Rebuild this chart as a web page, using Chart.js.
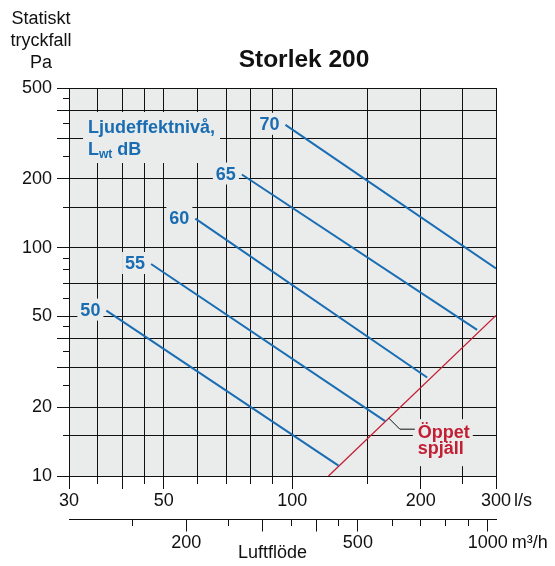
<!DOCTYPE html>
<html><head><meta charset="utf-8">
<script src="https://cdn.jsdelivr.net/npm/chart.js@4.4.1/dist/chart.umd.min.js"></script>
<style>html,body{margin:0;padding:0;background:#fff;}#wrap{width:555px;height:566px;}</style>
</head><body><div id="wrap"><canvas id="c" width="555" height="566"></canvas></div>
<script>
// ---- data ----
const levels = [50, 55, 60, 65, 70];                 // Lwt dB
const startFlow = [36.7, 46.7, 59.3, 76.2, 96.4];     // l/s
const startPressure = [53, 84.8, 134, 209, 345];      // Pa
const endFlow = [128.3, 165, 207, 271, 300];          // l/s
const endPressure = [11.1, 17.4, 27.0, 43.6, 81.1];   // Pa
const damperFlow = [121.6, 300];                      // l/s (Öppet spjäll)
const damperPressure = [10, 50.5];                    // Pa

const flowTicks = [30,35,40,45,50,60,70,80,90,100,150,200,250,300];
const flowLabels = [30,50,100,200,300];
const pressureTicks = [10,15,20,25,30,35,40,45,50,60,70,80,90,100,150,200,250,300,350,400,450,500];
const pressureGrid = [10,15,20,30,40,50,70,100,150,200,300,400,500];
const pressureLabels = [10,20,50,100,200,500];
const m3hTicks = [150,200,250,300,350,400,450,500,600,700,800,900,1000];
const m3hLabels = [200,500,1000];

// ---- style ----
const BLUE = '#1a6db3', RED = '#c41e35', BG = '#e9ecea', INK = '#111';
const FONT = "'Liberation Sans', Arial, Helvetica, sans-serif";
Chart.defaults.font.family = FONT;
Chart.defaults.color = INK;

function isLong(v){
  const m = v / Math.pow(10, Math.floor(Math.log10(v) + 1e-9));
  return [1,2,3,4,5].some(k => Math.abs(m - k) < 1e-6);
}
function setTicks(vals){ return s => { s.ticks = vals.map(v => ({value: v})); }; }

const datasets = levels.map((L, i) => ({
  label: 'Lwt ' + L + ' dB',
  data: [{x: startFlow[i], y: startPressure[i]}, {x: endFlow[i], y: endPressure[i]}],
  borderColor: BLUE, borderWidth: 2, pointRadius: 0, fill: false, tension: 0
}));
datasets.push({
  label: 'Öppet spjäll',
  data: damperFlow.map((x, i) => ({x: x, y: damperPressure[i]})),
  borderColor: RED, borderWidth: 1.3, pointRadius: 0, fill: false, tension: 0
});

const decor = {
  id: 'decor',
  beforeDraw(chart){
    const {ctx, chartArea: a} = chart;
    ctx.save(); ctx.fillStyle = BG;
    ctx.fillRect(a.left, a.top, a.right - a.left, a.bottom - a.top);
    ctx.restore();
  },
  afterDatasetsDraw(chart){
    const ctx = chart.ctx;
    ctx.save();
    // level labels
    ctx.font = 'bold 18px ' + FONT;
    ctx.textAlign = 'center'; ctx.textBaseline = 'alphabetic';
    levels.forEach((L, i) => {
      const p = chart.getDatasetMeta(i).data[0];
      const cx = p.x - 16, cy = p.y - 1;
      const t = String(L), w = ctx.measureText(t).width;
      ctx.fillStyle = BG; ctx.fillRect(cx - w/2 - 3, cy - 11, w + 6, 22);
      ctx.fillStyle = BLUE; ctx.fillText(t, cx, cy + 6.4);
    });
    // legend text
    const a = chart.chartArea;
    const lx = a.left + 19, ly = a.top + 45;
    ctx.fillStyle = BG; ctx.fillRect(lx - 5, a.top + 24, 137, 51);
    ctx.textAlign = 'left'; ctx.fillStyle = BLUE;
    ctx.font = 'bold 18px ' + FONT;
    ctx.fillText('Ljudeffektnivå,', lx, ly);
    let x = lx;
    ctx.fillText('L', x, ly + 22); x += ctx.measureText('L').width;
    ctx.font = 'bold 12px ' + FONT;
    ctx.fillText('wt', x, ly + 25); x += ctx.measureText('wt').width;
    ctx.font = 'bold 18px ' + FONT;
    ctx.fillText(' dB', x, ly + 22);
    // Öppet spjäll annotation
    const rp = chart.getDatasetMeta(levels.length).data;
    const t = 0.36;
    const sx = rp[0].x + (rp[1].x - rp[0].x) * t, sy = rp[0].y + (rp[1].y - rp[0].y) * t;
    const bx = sx + 11, by = sy + 11;
    const tx = bx + 18;
    ctx.fillStyle = BG; ctx.fillRect(tx - 5, by - 10, 60, 47);
    ctx.strokeStyle = INK; ctx.lineWidth = 1;
    ctx.beginPath(); ctx.moveTo(sx, sy); ctx.lineTo(bx, by); ctx.lineTo(tx - 3, by); ctx.stroke();
    ctx.fillStyle = RED; ctx.font = 'bold 18px ' + FONT;
    ctx.fillText('Öppet', tx, by + 9);
    ctx.fillText('spjäll', tx, by + 25);
    ctx.restore();
  },
  afterDraw(chart){
    const ctx = chart.ctx;
    ctx.save();
    ctx.fillStyle = INK;
    ctx.textAlign = 'center'; ctx.textBaseline = 'alphabetic';
    ctx.font = '18px ' + FONT;
    ctx.fillText('Statiskt', 41, 24);
    ctx.fillText('tryckfall', 41, 46);
    ctx.fillText('Pa', 41, 68);
    ctx.font = 'bold 24.5px ' + FONT;
    ctx.fillText('Storlek 200', 304, 66.5);
    ctx.font = '18px ' + FONT;
    ctx.fillText('Luftflöde', 272.5, 558);
    const xs = chart.scales.x, x2 = chart.scales.x2;
    ctx.textAlign = 'left'; ctx.textBaseline = 'middle';
    ctx.fillText('l/s', xs.getPixelForValue(300) + 18, xs.top + 13 + 3.5 + 9);
    ctx.fillText('m³/h', x2.getPixelForValue(1000) + 24, x2.top + 12.5 + 2.5 + 9);
    ctx.restore();
  }
};

new Chart(document.getElementById('c'), {
  type: 'line',
  data: {datasets},
  plugins: [decor],
  options: {
    responsive: false, animation: false, devicePixelRatio: 1,
    layout: {padding: {top: 88, right: 59, bottom: 0, left: 0}},
    plugins: {legend: {display: false}, tooltip: {enabled: false}, title: {display: false}},
    scales: {
      x: {
        type: 'logarithmic', position: 'bottom', min: 30, max: 300,
        afterBuildTicks: setTicks(flowTicks),
        afterFit: s => { s.height = 43; },
        ticks: {autoSkip: false, maxRotation: 0, minRotation: 0, padding: 3.5, color: INK,
          font: {size: 18, lineHeight: 1},
          callback: v => flowLabels.includes(v) ? String(v) : ''},
        grid: {color: INK, lineWidth: 1, tickLength: 13, tickColor: INK, tickWidth: 1,
          tickBorderDash: c => (c.tick && !isLong(c.tick.value)) ? [7, 100] : []},
        border: {color: INK, width: 1}
      },
      x2: {
        type: 'logarithmic', position: 'bottom', min: 107, max: 1045,
        afterBuildTicks: setTicks(m3hTicks),
        afterFit: s => { s.height = 47; },
        ticks: {autoSkip: false, maxRotation: 0, minRotation: 0, padding: 2.5, color: INK,
          font: {size: 18, lineHeight: 1},
          callback: v => m3hLabels.includes(v) ? String(v) : ''},
        grid: {drawOnChartArea: false, color: INK, tickColor: INK, tickLength: 12.5, tickWidth: 1,
          tickBorderDash: c => (c.tick && !isLong(c.tick.value)) ? [6, 100] : []},
        border: {color: INK, width: 1}
      },
      y: {
        type: 'logarithmic', position: 'left', min: 10, max: 500,
        afterBuildTicks: setTicks(pressureTicks),
        afterFit: s => { s.width = 69; },
        ticks: {autoSkip: false, padding: 5, color: INK, font: {size: 18, lineHeight: 1},
          callback: v => pressureLabels.includes(v) ? String(v) : ''},
        grid: {color: c => (c.tick && pressureGrid.includes(c.tick.value)) ? INK : 'rgba(0,0,0,0)',
          tickColor: INK, tickLength: 12, tickWidth: 1, lineWidth: 1,
          tickBorderDash: c => (c.tick && !isLong(c.tick.value)) ? [0, 6, 6, 100] : []},
        border: {color: INK, width: 1}
      }
    }
  }
});
</script></body></html>
